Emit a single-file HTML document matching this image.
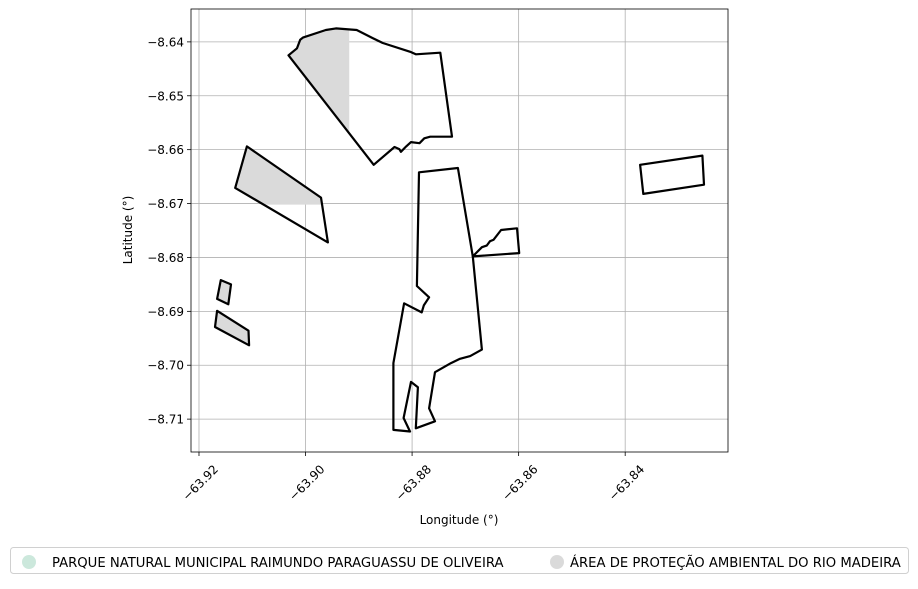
<!DOCTYPE html>
<html><head><meta charset="utf-8"><style>
body{margin:0;background:#fff;font-family:"Liberation Sans","DejaVu Sans",sans-serif}
svg text{font-family:"DejaVu Sans","Liberation Sans",sans-serif;fill:#000}
</style></head><body>
<svg id="c" width="918" height="584" xmlns="http://www.w3.org/2000/svg"></svg>
<script>
const xTicks=[-63.92,-63.90,-63.88,-63.86,-63.84];
const xTickLabels=["−63.92","−63.90","−63.88","−63.86","−63.84"];
const yTicks=[-8.64,-8.65,-8.66,-8.67,-8.68,-8.69,-8.70,-8.71];
const yTickLabels=["−8.64","−8.65","−8.66","−8.67","−8.68","−8.69","−8.70","−8.71"];
const polyA=[[-63.9032,-8.6425],[-63.9016,-8.6412],[-63.9010,-8.6396],[-63.9005,-8.6392],[-63.8962,-8.6378],[-63.8943,-8.6375],[-63.8904,-8.6378],[-63.8874,-8.6393],[-63.8855,-8.6402],[-63.8802,-8.6419],[-63.8793,-8.6423],[-63.8747,-8.6420],[-63.8725,-8.6576],[-63.8766,-8.6576],[-63.8777,-8.6579],[-63.8786,-8.6588],[-63.8802,-8.6586],[-63.8811,-8.6594],[-63.8821,-8.6604],[-63.8824,-8.6599],[-63.8833,-8.6595],[-63.8872,-8.6628]];
const polyB=[[-63.9110,-8.6594],[-63.8971,-8.6689],[-63.8958,-8.6772],[-63.9132,-8.6671]];
const polyC=[[-63.9159,-8.6842],[-63.9140,-8.6850],[-63.9145,-8.6887],[-63.9166,-8.6877]];
const polyD=[[-63.9166,-8.6899],[-63.9107,-8.6936],[-63.9106,-8.6963],[-63.9170,-8.6929]];
const polyE=[[-63.8787,-8.6642],[-63.8714,-8.6634],[-63.8686,-8.6798],[-63.8669,-8.6971],[-63.8691,-8.6983],[-63.8710,-8.6988],[-63.8727,-8.6996],[-63.8757,-8.7013],[-63.8768,-8.7080],[-63.8757,-8.7104],[-63.8793,-8.7117],[-63.8789,-8.7041],[-63.8802,-8.7031],[-63.8816,-8.7098],[-63.8804,-8.7123],[-63.8835,-8.7120],[-63.8835,-8.6996],[-63.8815,-8.6885],[-63.8782,-8.6902],[-63.8778,-8.6889],[-63.8768,-8.6874],[-63.8791,-8.6853]];
const polyF=[[-63.8686,-8.6798],[-63.8679,-8.6791],[-63.8669,-8.6781],[-63.8660,-8.6778],[-63.8654,-8.6770],[-63.8647,-8.6767],[-63.8633,-8.6749],[-63.8603,-8.6746],[-63.8599,-8.6792]];
const polyG=[[-63.8372,-8.6628],[-63.8255,-8.6611],[-63.8252,-8.6665],[-63.8366,-8.6682]];
const fillLonMax=-63.8918, fillLatMin=-8.6702;

const L=191,R=728,T=9,B=452;
const X0=-63.9215,X1=-63.8207,Y0=-8.7161,Y1=-8.6339;
const sx=v=>L+(v-X0)/(X1-X0)*(R-L);
const sy=v=>B-(v-Y0)/(Y1-Y0)*(B-T);
const NS="http://www.w3.org/2000/svg";
const svg=document.getElementById('c');
function mk(t,a,p){const e=document.createElementNS(NS,t);for(const k in a)e.setAttribute(k,a[k]);(p||svg).appendChild(e);return e;}
const pts=p=>p.map(q=>sx(q[0]).toFixed(1)+","+sy(q[1]).toFixed(1)).join(" ");

xTicks.forEach((v,i)=>{
 const g=mk('line',{x1:sx(v),x2:sx(v),y1:T,y2:B,stroke:'#b0b0b0','stroke-width':0.8});
 
 
 mk('line',{x1:sx(v),x2:sx(v),y1:B,y2:B+4,stroke:'#000','stroke-width':0.8});
 const x=sx(v)+14,y=B+12;
 const t=mk('text',{x:x,y:y,'font-size':12,'text-anchor':'end',transform:`rotate(-45 ${x} ${y})`,dy:'0.7em'});
 t.textContent=xTickLabels[i];
 
 
});
yTicks.forEach((v,i)=>{
 const g=mk('line',{x1:L,x2:R,y1:sy(v),y2:sy(v),stroke:'#b0b0b0','stroke-width':0.8});
 
 
 mk('line',{x1:L-4,x2:L,y1:sy(v),y2:sy(v),stroke:'#000','stroke-width':0.8});
 const t=mk('text',{x:L-7,y:sy(v)+4.5,'font-size':12,'text-anchor':'end'});
 t.textContent=yTickLabels[i];
 
 
});

const defs=mk('defs',{});
const c1=mk('clipPath',{id:'clipA'},defs);mk('rect',{x:0,y:0,width:sx(fillLonMax),height:584},c1);
const c2=mk('clipPath',{id:'clipB'},defs);mk('rect',{x:0,y:0,width:918,height:sy(fillLatMin)},c2);

const fa=mk('polygon',{points:pts(polyA),fill:'#dadada','clip-path':'url(#clipA)'});


const fb=mk('polygon',{points:pts(polyB),fill:'#dadada','clip-path':'url(#clipB)'});


[polyC,polyD].forEach(p=>{
 const f=mk('polygon',{points:pts(p),fill:'#dadada'});
 
 
});
const names=['area-north','area-west','area-small-1','area-small-2','area-central','area-east-strip','area-far-east'];
[polyA,polyB,polyC,polyD,polyE,polyF,polyG].forEach((p,i)=>{
 const e=mk('polygon',{points:pts(p),fill:'none',stroke:'#000','stroke-width':2.2,'stroke-linejoin':'round'});
 
 
});
const fr=mk('rect',{x:L,y:T,width:R-L,height:B-T,fill:'none',stroke:'#000','stroke-width':0.8});



const xl=mk('text',{x:459,y:524,'font-size':12,'text-anchor':'middle'});xl.textContent='Longitude (°)';


const yl=mk('text',{x:132,y:230,'font-size':12,'text-anchor':'middle',transform:'rotate(-90 132 230)'});yl.textContent='Latitude (°)';



const lg=mk('g',{});


mk('rect',{x:10.5,y:547.5,width:898,height:26,rx:3,fill:'#fff',stroke:'#d0d0d0'},lg);
const m1=mk('circle',{cx:29,cy:562,r:7,fill:'#cce8dc'},lg);


const t1=mk('text',{x:52,y:567,'font-size':13.2},lg);t1.textContent='PARQUE NATURAL MUNICIPAL RAIMUNDO PARAGUASSU DE OLIVEIRA';


const m2=mk('circle',{cx:557,cy:562,r:7,fill:'#dadada'},lg);


const t2=mk('text',{x:570,y:567,'font-size':13.2},lg);t2.textContent='ÁREA DE PROTEÇÃO AMBIENTAL DO RIO MADEIRA';


</script>
</body></html>
